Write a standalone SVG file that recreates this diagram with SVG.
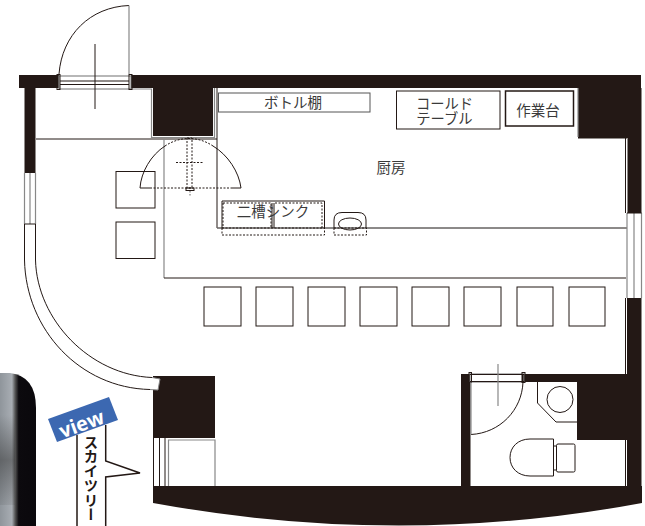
<svg xmlns="http://www.w3.org/2000/svg" width="645" height="526" viewBox="0 0 645 526">
<defs>
<style>
.w{fill:#231815}
.k{fill:none;stroke:#231815;stroke-width:1}
.g{fill:none;stroke:#888;stroke-width:1.2}
.b{fill:#fff;stroke:#231815;stroke-width:1}
.d{fill:none;stroke:#231815;stroke-width:1;stroke-dasharray:2 1.5}
.gd{fill:none;stroke:#666;stroke-width:1;stroke-dasharray:1.5 1.5}
text{font-family:"Noto Sans CJK JP","Noto Sans",sans-serif;fill:#3a3a3a;font-size:14.5px}
.c{text-anchor:middle}
</style>
<linearGradient id="photo" x1="0" y1="0" x2="1" y2="0">
<stop offset="0" stop-color="#8f959b"/><stop offset="0.33" stop-color="#a8adb3"/><stop offset="0.42" stop-color="#555"/><stop offset="0.52" stop-color="#0c0a0e"/><stop offset="1" stop-color="#0a080c"/>
</linearGradient>
<linearGradient id="shade" x1="0" y1="0" x2="0" y2="1">
<stop offset="0" stop-color="#333" stop-opacity="0"/><stop offset="0.5" stop-color="#333" stop-opacity="0.5"/><stop offset="1" stop-color="#333" stop-opacity="0.1"/>
</linearGradient>
</defs>
<rect width="645" height="526" fill="#fff"/>
<g id="photo-edge"><path d="M0 373H10Q36 376 36 408V526H0Z" fill="url(#photo)"/><rect x="0" y="415" width="15" height="90" fill="url(#shade)"/></g>
<g id="walls">
<rect class="w" x="19" y="75" width="40" height="13"/>
<rect class="w" x="131" y="75" width="510" height="13"/>
<rect class="w" x="24.500" y="88" width="11" height="85"/>
<rect class="w" x="153" y="88" width="60" height="48"/>
<path class="w" d="M578 88H641.500V213H627.500V138H578Z"/>
<rect class="w" x="627" y="298" width="14.500" height="76"/>
<rect class="w" x="577" y="374" width="64.500" height="66"/>
<rect class="w" x="627" y="440" width="14.500" height="47"/>
<rect class="w" x="522" y="374" width="55" height="8"/>
<rect class="w" x="461" y="374" width="9" height="113"/>
<rect class="w" x="153" y="376" width="62" height="62"/>
<path class="w" d="M153 486H642V503Q400 548 153 503Z"/>
</g>
<g id="wall-lines">
<path class="g" d="M131 89H151.500V137.500H214.500V88"/>
<path class="k" d="M36 139H217M217 88V228H627"/>
<path class="g" d="M164 139V278"/>
<path class="k" d="M164 278H626M627 138H625.500V213M578 138H626"/>
<path class="g" d="M578 88V137M217 228H627"/>
<path class="k" d="M625.500 298V374M625.500 440V487"/>
<path class="k" d="M470 382V487"/>
</g>
<g id="windows">
<path class="g" d="M24.500 173V224M35.500 173V224M30 173V224"/>
<path class="k" d="M24.500 224H35.500"/>
<path class="k" d="M24.500 224V260C26 330 80 388 150 389.500M35.500 224V260C37 320 90 375 152 377.500"/>
<path class="b" stroke="none" d="M152 377.500L160 379 158 390 150 389.500" style="stroke:#888"/>
<path class="g" d="M627 213V298M634 213V298M641.500 213V298"/>
<path class="k" d="M627 213H641.500"/>
<path class="k" d="M153.500 438V486M159.500 438V486M165 438V486"/>
<path class="g" d="M168.500 486V440H215V486"/>
</g>
<g id="entrance-door">
<rect class="g" x="59" y="76" width="72" height="13"/>
<path class="k" d="M60 81H129M60 84.500H129"/>
<rect class="k" x="57" y="74.500" width="3" height="15"/>
<rect class="k" x="129" y="74.500" width="3" height="15"/>
<path class="k" d="M59 74C62 35 90 7 129 5.500"/>
<path class="g" d="M129 5.500V74"/>
<path class="k" d="M95 44V109"/>
</g>
<g id="kitchen-door">
<path class="k" d="M140 188C141 172 151 155 165 146M213 146C228 155 239 172 241 188"/>
<path class="d" d="M165 146C180 136 198 136 213 146"/>
<path class="k" d="M140 188H150M232 188H241"/>
<path class="d" d="M150 188H232"/>
<rect class="d" x="187" y="138" width="5" height="50"/>
<path class="d" d="M176 162.500H204"/>
<rect class="k" x="186" y="188" width="8" height="2.500"/>
<path class="gd" d="M190 191V196"/>
</g>
<g id="seat-a"><rect class="k" x="116" y="171.500" width="39" height="36.500"/></g>
<g id="seat-b"><rect class="k" x="116" y="222" width="39" height="36.500"/></g>
<g id="stools">
<rect class="k" x="204" y="287" width="37" height="39"/>
<rect class="k" x="256" y="287" width="37" height="39"/>
<rect class="k" x="308" y="287" width="37" height="39"/>
<rect class="k" x="360" y="287" width="37" height="39"/>
<rect class="k" x="412" y="287" width="37" height="39"/>
<rect class="k" x="464" y="287" width="37" height="39"/>
<rect class="k" x="517" y="287" width="36" height="39"/>
<rect class="k" x="569" y="287" width="36" height="39"/>
</g>
<g id="bottle-shelf">
<rect class="b" x="218.500" y="93" width="151.500" height="19" style="stroke:#555"/>
<text class="c" x="293" y="108">ボトル棚</text>
</g>
<g id="cold-table">
<rect class="b" x="396.500" y="91" width="103.500" height="38"/>
<text class="c" style="font-size:14.300px"><tspan x="444.500" y="109">コールド</tspan><tspan x="444.500" y="123.500">テーブル</tspan></text>
</g>
<g id="work-table">
<rect class="b" x="505.500" y="91" width="68" height="35" style="stroke-width:1.500"/>
<text class="c" x="538" y="115.500">作業台</text>
</g>
<g id="kitchen-label"><text class="c" x="391" y="173">厨房</text></g>
<g id="sink">
<path class="k" d="M222 228V201H324.500V228"/>
<path class="k" d="M272 203V228M274 203V228"/>
<path class="d" d="M223 203H271V228M275 203H322V228M223 203V228"/>
<rect class="d" x="222" y="228" width="102.500" height="7"/>
<text class="c" x="273" y="217">二槽シンク</text>
</g>
<g id="hand-basin">
<path class="k" d="M334 228V220Q334 212.500 342 212.500H358Q366 212.500 366 220V228"/>
<ellipse class="k" cx="350" cy="224" rx="11.500" ry="6"/>
<rect class="d" x="334" y="228" width="32.500" height="7"/>
</g>
<g id="toilet-door">
<rect class="g" x="470" y="374" width="54" height="8"/>
<path class="k" d="M470 374.500H524M470 381.500H524"/>
<rect class="k" x="469" y="372.500" width="2.500" height="10"/>
<rect class="k" x="522" y="372.500" width="3" height="10"/>
<path class="k" d="M523 382C522 410 500 433 471 434.500"/>
<path class="g" d="M471 382V434.500"/>
<path class="g" d="M498 364V406"/>
</g>
<g id="wash-basin">
<path class="k" d="M537.500 382V403L556 422H577"/>
<circle class="k" cx="560" cy="399.500" r="13"/>
</g>
<g id="toilet">
<path class="k" d="M553.500 439H530C518 439 510 447 510 457.500C510 468 518 476 530 476H553.500Z"/>
<rect class="k" x="556.500" y="444" width="18.500" height="28" rx="1.500"/>
<path class="k" d="M553.500 446H556.500M553.500 470H556.500"/>
</g>
<g id="view-callout">
<path d="M77 526V435M105.700 526V477L140 473 105.700 461V425" fill="none" stroke="#231815" stroke-width="1.500"/>
<path d="M48 419L109 397 118 420 57 442Z" fill="#3c68b1"/>
<text transform="translate(84 430.500) rotate(-20)" class="c" style="fill:#fff;font-family:'Open Sans',sans-serif;font-weight:700;font-size:20px">view</text>
<text x="91" y="435" style="writing-mode:vertical-rl;font-weight:700;font-size:14.500px;fill:#231815">スカイツリー</text>
</g>
</svg>
